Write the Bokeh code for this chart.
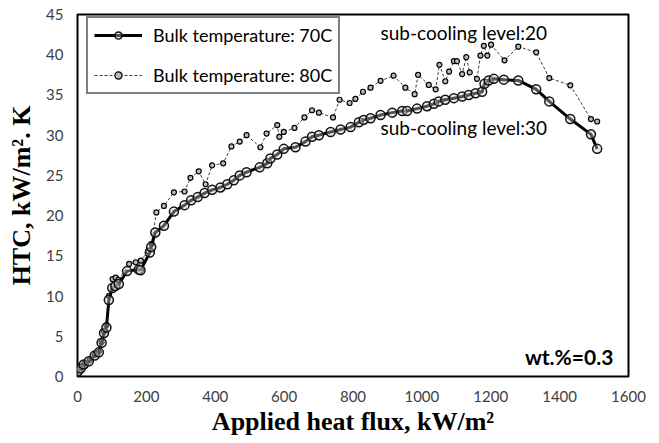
from bokeh.plotting import figure
from bokeh.models import Label, Legend, LegendItem, FixedTicker, Range1d
from bokeh.embed import file_html
from bokeh.resources import INLINE

# ---- data ----
x70 = [0, 9, 18, 33, 50, 62, 70, 77, 84, 91, 101, 110, 120, 144, 178, 183, 210, 214, 226, 251,
       280, 311, 330, 349, 369, 391, 415, 435, 454, 471, 491, 529, 551, 560, 580, 599, 633, 662,
       681, 701, 735, 764, 793, 817, 831, 851, 880, 914, 943, 957, 986, 1015, 1035, 1049, 1068,
       1093, 1117, 1136, 1156, 1175, 1182, 1194, 1209, 1238, 1280, 1332, 1370, 1431, 1491, 1509]
y70 = [0.6, 1.0, 1.5, 1.9, 2.6, 3.0, 4.2, 5.4, 6.1, 9.5, 11.0, 11.25, 11.5, 13.1, 13.3, 13.2,
       15.4, 16.1, 17.9, 18.75, 20.5, 21.3, 21.9, 22.3, 22.8, 23.2, 23.5, 23.9, 24.4, 25.0, 25.4,
       26.0, 26.5, 27.1, 27.6, 28.3, 28.5, 29.2, 29.8, 30.0, 30.4, 30.7, 31.0, 31.6, 31.9, 32.1,
       32.5, 32.8, 33.0, 33.0, 33.3, 33.6, 33.9, 34.2, 34.4, 34.6, 34.8, 35.0, 35.2, 35.4, 36.4,
       36.8, 37.0, 36.9, 36.8, 35.7, 34.2, 32.0, 30.1, 28.3]

x80 = [0, 10, 20, 35, 50, 62, 70, 77, 84, 91, 102, 111, 119, 150, 169, 184, 205, 215, 229, 251,
       280, 311, 328, 352, 372, 391, 423, 447, 471, 491, 531, 549, 580, 586, 599, 630, 659, 681,
       701, 742, 761, 790, 807, 829, 851, 880, 918, 952, 979, 989, 1020, 1040, 1051, 1068, 1079,
       1093, 1102, 1117, 1129, 1139, 1160, 1170, 1180, 1190, 1201, 1240, 1280, 1332, 1370, 1431,
       1491, 1509]
y80 = [0.8, 1.1, 1.6, 2.0, 2.7, 3.1, 4.3, 5.6, 6.4, 10.0, 12.1, 12.3, 12.0, 14.0, 14.2, 14.4,
       15.6, 16.5, 20.4, 21.2, 22.9, 23.0, 24.7, 25.5, 23.9, 26.25, 26.5, 28.6, 29.2, 30.0, 28.5,
       30.2, 31.25, 29.8, 30.4, 30.9, 32.2, 33.1, 32.8, 32.2, 34.4, 34.0, 34.5, 35.4, 35.9, 36.75,
       37.4, 35.9, 35.1, 37.5, 36.25, 35.7, 38.75, 36.7, 37.9, 39.2, 39.2, 37.6, 39.7, 37.8, 37.0,
       39.9, 41.1, 39.9, 41.25, 39.3, 41.0, 40.3, 37.1, 36.2, 32.0, 31.7]

x_ticks = [0, 200, 400, 600, 800, 1000, 1200, 1400, 1600]
y_ticks = [0, 5, 10, 15, 20, 25, 30, 35, 40, 45]

series_names = ["Bulk temperature: 70C", "Bulk temperature: 80C"]
x_title = "Applied heat flux, kW/m\u00b2"
y_title = "HTC, kW/m\u00b2. K"

p = figure(width=655, height=442, output_backend="svg", toolbar_location=None,
           x_range=Range1d(0, 1600), y_range=Range1d(0, 45),
           frame_width=551, frame_height=362,
           min_border_left=77, min_border_right=27, min_border_top=14, min_border_bottom=66)
p.background_fill_color = "white"
p.border_fill_color = "white"
p.outline_line_color = "black"
p.outline_line_width = 2
p.xgrid.visible = False
p.ygrid.visible = False

for ax in (p.xaxis[0], p.yaxis[0]):
    ax.axis_line_color = None
    ax.major_tick_line_color = None
    ax.minor_tick_line_color = None
    ax.major_tick_out = 0
    ax.major_tick_in = 0
    ax.minor_tick_out = 0
    ax.minor_tick_in = 0
    ax.major_label_text_font = "Lato"
    ax.major_label_text_font_size = "15px"
    ax.major_label_text_color = "#404040"
    ax.axis_label_text_font = "Liberation Serif"
    ax.axis_label_text_font_style = "bold"
    ax.axis_label_text_font_size = "26px"
    ax.axis_label_text_color = "black"

p.xaxis.ticker = FixedTicker(ticks=x_ticks)
p.yaxis.ticker = FixedTicker(ticks=y_ticks)
p.xaxis.axis_label = x_title
p.yaxis.axis_label = y_title
p.xaxis.major_label_standoff = 14
p.yaxis.major_label_standoff = 14
p.xaxis.axis_label_standoff = 2
p.yaxis.axis_label_standoff = 7

l80 = p.line(x80, y80, line_color="#404040", line_width=1, line_dash="3 2")
c80 = p.scatter(x80, y80, size=5, marker="circle", line_color="black", line_width=1.2,
                fill_color="#bbbbbb")
l70 = p.line(x70, y70, line_color="black", line_width=3)
c70 = p.scatter(x70, y70, size=9, marker="circle", line_color="#111111", line_width=1.5,
                fill_color="#cccccc", fill_alpha=0.4)

legend = Legend(items=[LegendItem(label=series_names[0], renderers=[l70, c70]),
                       LegendItem(label=series_names[1], renderers=[l80, c80])],
                location=(9, 282), orientation="vertical")
legend.border_line_color = "black"
legend.border_line_width = 2
legend.background_fill_color = "white"
legend.background_fill_alpha = 1
legend.label_text_font = "Lato"
legend.label_text_font_size = "18px"
legend.label_text_color = "black"
legend.glyph_width = 48
legend.glyph_height = 18
legend.label_height = 18
legend.spacing = 18
legend.padding = 6
legend.margin = 0
legend.label_standoff = 11
p.add_layout(legend, "center")

p.add_layout(Label(x=880, y=42.75, text="sub-cooling level:20", text_font="Lato",
                   text_font_size="19px", text_baseline="middle", text_color="black"))
p.add_layout(Label(x=880, y=30.9, text="sub-cooling level:30", text_font="Lato",
                   text_font_size="19px", text_baseline="middle", text_color="black"))
p.add_layout(Label(x=1556, y=2.5, text="wt.%=0.3", text_font="Lato", text_font_style="bold",
                   text_font_size="21px", text_baseline="middle", text_align="right",
                   text_color="black"))

open("out.html", "w").write(file_html(p, INLINE))
